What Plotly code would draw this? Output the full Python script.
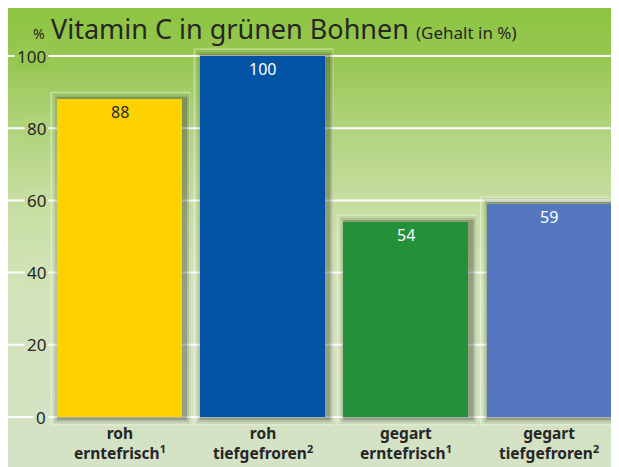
import plotly.graph_objects as go

# -- data ------------------------------------------------------------------
categories = [
    "roh<br>erntefrisch<sup>1</sup>",
    "roh<br>tiefgefroren<sup>2</sup>",
    "gegart<br>erntefrisch<sup>1</sup>",
    "gegart<br>tiefgefroren<sup>2</sup>",
]
vitamin_c = [88, 100, 54, 59]
value_labels = ["88", "100", "54", "59"]
y_ticks = [0, 20, 40, 60, 80, 100]

# -- style -----------------------------------------------------------------
bar_colors = ["#FDD200", "#0353A4", "#23903A", "#5577BF"]
label_colors = ["#2B2B2B", "#FFFFFF", "#FFFFFF", "#FFFFFF"]
text_color = "#262626"
font = "Noto Sans"

# the page body adds an 8px margin, so the figure is that much smaller
OFF = 8
W, H = 619 - OFF, 467 - OFF
M = dict(l=0, r=0, t=0, b=0)
PW, PH = W, H

# wanted page positions: value 0 at y=417, 100 at y=56; bar pitch 143.2px
px_per_unit = (417 - 56) / 100
Y_RANGE = [-(467 - 417) / px_per_unit, 100 + (56 - OFF) / px_per_unit]
pitch = 143.2
X_RANGE = [(OFF - 119.5) / pitch, (619 - 119.5) / pitch]
BAR_W = 125 / pitch
DX = (X_RANGE[1] - X_RANGE[0]) / PW   # one pixel in x data units
DY = (Y_RANGE[1] - Y_RANGE[0]) / PH   # one pixel in y data units

# background gradient stops: (page pixel y, rgb)
grad_stops = [
    (5, (140, 196, 64)),
    (55, (150, 199, 80)),
    (120, (174, 210, 120)),
    (200, (198, 222, 160)),
    (290, (210, 228, 186)),
    (467, (212, 226, 198)),
]


def py(v):
    # value -> page pixel y
    return OFF + (Y_RANGE[1] - v) / (Y_RANGE[1] - Y_RANGE[0]) * PH


def px_paper(p):
    return (p - OFF) / PW


def py_paper(p):
    return (OFF + PH - p) / PH


def grad(p):
    for (y0, c0), (y1, c1) in zip(grad_stops, grad_stops[1:]):
        if p <= y1:
            t = max(0.0, (p - y0) / (y1 - y0))
            c = [round(a + (b - a) * t) for a, b in zip(c0, c1)]
            return "rgb(%d,%d,%d)" % tuple(c)
    return "rgb(%d,%d,%d)" % grad_stops[-1][1]


shapes = []

# gradient background in thin bands
step = 3
for p in range(OFF, 467, step):
    shapes.append(dict(
        type="rect", xref="paper", yref="paper", layer="below",
        x0=0, x1=1, y0=py_paper(min(p + step, 467)), y1=py_paper(p),
        fillcolor=grad(p + step / 2), line_width=0,
    ))

# white gridlines
for t in y_ticks:
    shapes.append(dict(
        type="line", xref="paper", yref="y", layer="below",
        x0=0, x1=1, y0=t, y1=t, line=dict(color="white", width=2),
    ))

# faint frames + soft shadows behind bars
for i, v in enumerate(vitamin_c):
    left, right = i - BAR_W / 2, i + BAR_W / 2
    shapes.append(dict(
        type="rect", xref="x", yref="y", layer="below",
        x0=left - 6 * DX, x1=right + 8 * DX, y0=-8 * DY, y1=v + 7 * DY,
        fillcolor="rgba(255,255,255,0.10)",
        line=dict(color="rgba(240,248,225,0.55)", width=1),
    ))
    for grow, alpha in [(6, 0.07), (4, 0.12), (2, 0.22)]:
        shapes.append(dict(
            type="rect", xref="x", yref="y", layer="below",
            x0=left - grow * DX + 2 * DX, x1=right + grow * DX + 3 * DX,
            y0=-(grow + 1) * DY, y1=v + grow * DY,
            fillcolor="rgba(30,40,20,%.2f)" % alpha, line_width=0,
        ))

fig = go.Figure()
fig.add_trace(go.Bar(
    x=categories, y=vitamin_c, width=BAR_W,
    marker=dict(color=bar_colors, line_width=0),
    hoverinfo="skip",
))

annotations = []

# value labels at the top inside each bar
for cat, v, lab, col in zip(categories, vitamin_c, value_labels, label_colors):
    annotations.append(dict(
        x=cat, y=v, xref="x", yref="y", text=lab, showarrow=False,
        yanchor="top", yshift=0, font=dict(family=font, size=16, color=col),
    ))

# y tick labels, masking the gridline behind them
for t in y_ticks:
    annotations.append(dict(
        x=px_paper(49), y=t, xref="paper", yref="y", text=str(t),
        showarrow=False, xanchor="right", yanchor="middle",
        bgcolor=grad(py(t)), borderpad=2,
        font=dict(family=font, size=17, color=text_color),
    ))

# category labels below the bars
for cat in categories:
    annotations.append(dict(
        x=cat, y=py_paper(443), xref="x", yref="paper", text="<b>%s</b>" % cat,
        showarrow=False, yanchor="middle",
        font=dict(family=font, size=15.5, color=text_color),
    ))

# title
annotations.append(dict(
    x=px_paper(31), y=py_paper(34), xref="paper", yref="paper", text="%",
    showarrow=False, xanchor="left", yanchor="middle",
    font=dict(family=font, size=14, color=text_color),
))
annotations.append(dict(
    x=px_paper(49), y=py_paper(28), xref="paper", yref="paper",
    text="Vitamin C in grünen Bohnen <span style='font-size:17px'>(Gehalt in %)</span>",
    showarrow=False, xanchor="left", yanchor="middle",
    font=dict(family=font, size=27, color=text_color),
))

fig.update_layout(
    width=W, height=H, margin=M,
    paper_bgcolor="white", plot_bgcolor="white",
    showlegend=False, bargap=0,
    xaxis=dict(range=X_RANGE, visible=False, fixedrange=True),
    yaxis=dict(range=Y_RANGE, visible=False, fixedrange=True),
    shapes=shapes, annotations=annotations,
)

fig.write_html("out.html")
